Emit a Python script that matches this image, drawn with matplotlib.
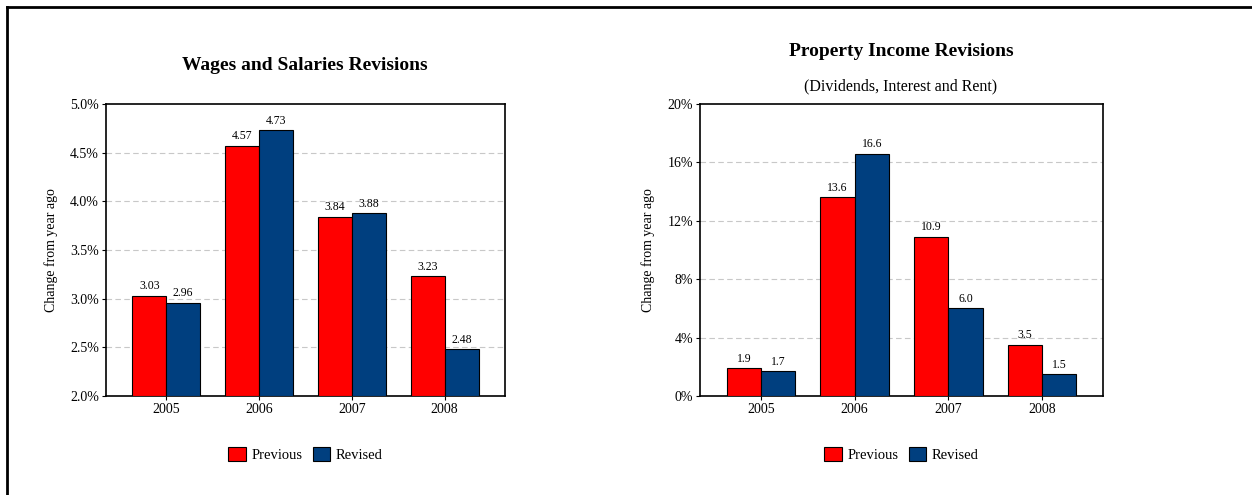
import numpy as np
import matplotlib
matplotlib.use("Agg")
import matplotlib.pyplot as plt
from matplotlib.lines import Line2D
from matplotlib.ticker import FuncFormatter

years = ["2005", "2006", "2007", "2008"]
wages_prev = [3.03, 4.57, 3.84, 3.23]
wages_rev = [2.96, 4.73, 3.88, 2.48]
prop_prev = [1.9, 13.6, 10.9, 3.5]
prop_rev = [1.7, 16.6, 6.0, 1.5]

RED = "#FF0000"
BLUE = "#003F7F"

plt.rcParams["font.family"] = ["Liberation Serif", "DejaVu Serif"]

fig = plt.figure(figsize=(12.52, 4.95), dpi=100)
ax1 = fig.add_axes([106 / 1252, 99 / 495, 399 / 1252, 292 / 495])
ax2 = fig.add_axes([700 / 1252, 99 / 495, 403 / 1252, 292 / 495])


def draw(ax, prev, rev, ylim, yticks, yfmt, lblfmt):
    x = np.arange(len(years))
    w = 0.365
    ax.bar(x - w / 2, [v - ylim[0] for v in prev], w, bottom=ylim[0],
           color=RED, edgecolor="black", linewidth=0.8, label="Previous", zorder=3)
    ax.bar(x + w / 2, [v - ylim[0] for v in rev], w, bottom=ylim[0],
           color=BLUE, edgecolor="black", linewidth=0.8, label="Revised", zorder=3)
    span = ylim[1] - ylim[0]
    for xs, vals in ((x - w / 2, prev), (x + w / 2, rev)):
        for xi, v in zip(xs, vals):
            ax.text(xi, v + span * 0.012, lblfmt.format(v), ha="center", va="bottom", fontsize=8.5)
    ax.set_ylim(*ylim)
    ax.set_xlim(-0.65, 3.65)
    ax.set_yticks(yticks)
    ax.yaxis.set_major_formatter(FuncFormatter(yfmt))
    ax.set_xticks(x)
    ax.set_xticklabels(years)
    for t in yticks[1:-1]:
        ax.axhline(t, color="#C8C8C8", linestyle=(0, (5, 3)), linewidth=0.8, zorder=1)
    ax.tick_params(axis="both", labelsize=10, length=3, width=0.8, direction="out", pad=2)
    for s in ax.spines.values():
        s.set_linewidth(1.2)
    ax.set_ylabel("Change from year ago", fontsize=10, labelpad=9)
    ax.legend(loc="upper center", bbox_to_anchor=(0.5, -0.13), ncol=2, frameon=False,
              fontsize=10.5, handlelength=1.2, handleheight=1.1, handletextpad=0.4,
              columnspacing=0.7)


draw(ax1, wages_prev, wages_rev, (2.0, 5.0), [2.0, 2.5, 3.0, 3.5, 4.0, 4.5, 5.0],
     lambda v, p: f"{v:.1f}%", "{:.2f}")
draw(ax2, prop_prev, prop_rev, (0, 20), [0, 4, 8, 12, 16, 20],
     lambda v, p: f"{v:.0f}%", "{:.1f}")

fig.text(305 / 1252, 1 - 65 / 495, "Wages and Salaries Revisions", ha="center", va="center",
         fontsize=14, fontweight="bold")
fig.text(901 / 1252, 1 - 52 / 495, "Property Income Revisions", ha="center", va="center",
         fontsize=14, fontweight="bold")
fig.text(901 / 1252, 1 - 86 / 495, "(Dividends, Interest and Rent)", ha="center", va="center",
         fontsize=11.5)

# outer frame (top and left edges)
fig.add_artist(Line2D([7 / 1252, 1], [1 - 6.5 / 495, 1 - 6.5 / 495], color="black", linewidth=2,
                      transform=fig.transFigure))
fig.add_artist(Line2D([7 / 1252, 7 / 1252], [0, 1 - 6.5 / 495], color="black", linewidth=2,
                      transform=fig.transFigure))

fig.savefig("out.png", dpi=100)
